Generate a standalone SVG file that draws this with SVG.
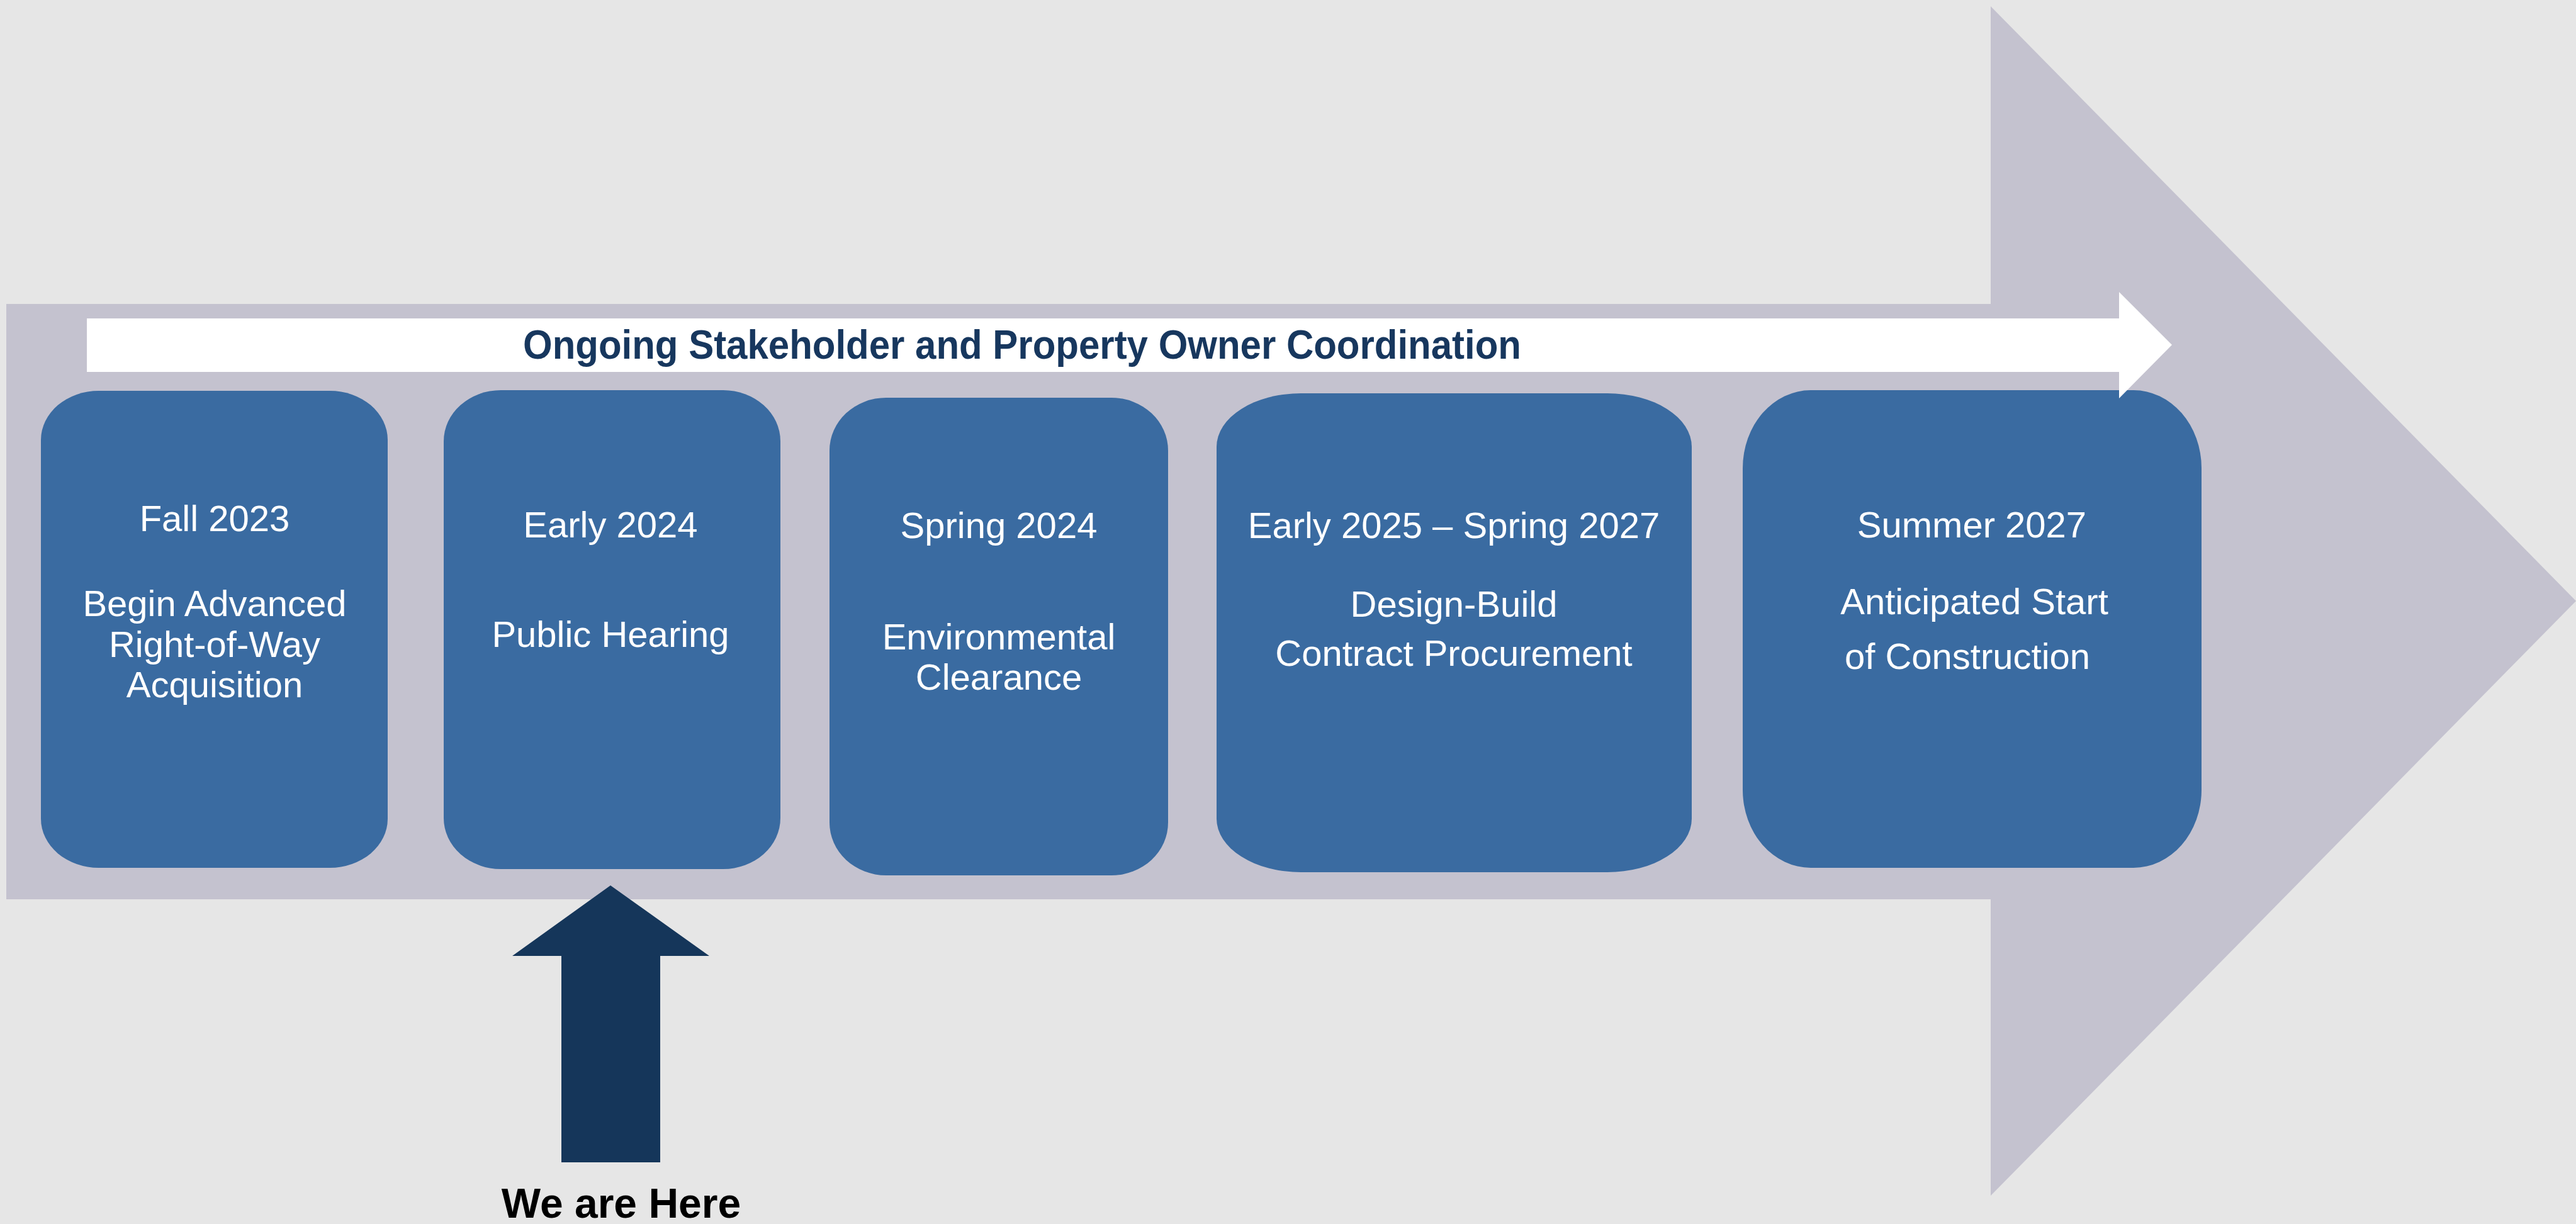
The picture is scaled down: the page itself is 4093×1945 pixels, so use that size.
<svg xmlns="http://www.w3.org/2000/svg" width="4093" height="1945" viewBox="0 0 4093 1945">
<style>
.bg{fill:#E6E6E6}
.big{fill:#C4C2CF}
.box{fill:#3A6BA1}
.t{font-family:"Liberation Sans",Arial,sans-serif;font-size:58px;fill:#FFFFFF;text-anchor:middle}
.title{font-family:"Liberation Sans",Arial,sans-serif;font-weight:bold;font-size:64px;fill:#17375E}
.here{font-family:"Liberation Sans",Arial,sans-serif;font-weight:bold;font-size:66px;fill:#000000;text-anchor:middle}
</style>
<rect class="bg" x="0" y="0" width="4093" height="1945"/>
<g id="connectors">
  <path id="main-arrow" class="big" d="M10,483 L3163,483 L3163,10 L4093,955 L3163,1900 L3163,1429 L10,1429 Z"/>
</g>
<g id="box1">
  <rect class="box" x="65" y="621" width="551" height="758" rx="92" ry="78"/>
  <text class="t" x="341" y="844">Fall 2023</text>
  <text class="t" x="341" y="979">Begin Advanced</text>
  <text class="t" x="341" y="1044">Right-of-Way</text>
  <text class="t" x="341" y="1108">Acquisition</text>
</g>
<g id="box2">
  <rect class="box" x="705" y="620" width="535" height="761" rx="91" ry="81"/>
  <text class="t" x="970" y="854">Early 2024</text>
  <text class="t" x="970" y="1028">Public Hearing</text>
</g>
<g id="box3">
  <rect class="box" x="1318" y="632" width="538" height="759" rx="90" ry="84"/>
  <text class="t" x="1587" y="855">Spring 2024</text>
  <text class="t" x="1587" y="1032">Environmental</text>
  <text class="t" x="1587" y="1096">Clearance</text>
</g>
<g id="box4">
  <rect class="box" x="1933" y="625" width="755" height="761" rx="134" ry="85"/>
  <text class="t" x="2310" y="855">Early 2025 – Spring 2027</text>
  <text class="t" x="2310" y="980">Design-Build</text>
  <text class="t" x="2310" y="1058">Contract Procurement</text>
</g>
<g id="box5">
  <rect class="box" x="2769" y="620" width="729" height="759" rx="108" ry="124"/>
  <text class="t" x="3133" y="854">Summer 2027</text>
  <text class="t" x="3137" y="976">Anticipated Start</text>
  <text class="t" x="3126" y="1063">of Construction</text>
</g>
<g id="coordination">
  <path fill="#FFFFFF" d="M138,506 L3367,506 L3367,464 L3451,548 L3367,633 L3367,591 L138,591 Z"/>
  <text class="title" x="831" y="570" textLength="1586" lengthAdjust="spacingAndGlyphs">Ongoing Stakeholder and Property Owner Coordination</text>
</g>
<g id="we-are-here">
  <path fill="#15365A" d="M970,1407 L1127,1519 L1049,1519 L1049,1847 L892,1847 L892,1519 L814,1519 Z"/>
  <text class="here" x="987" y="1935">We are Here</text>
</g>
</svg>
